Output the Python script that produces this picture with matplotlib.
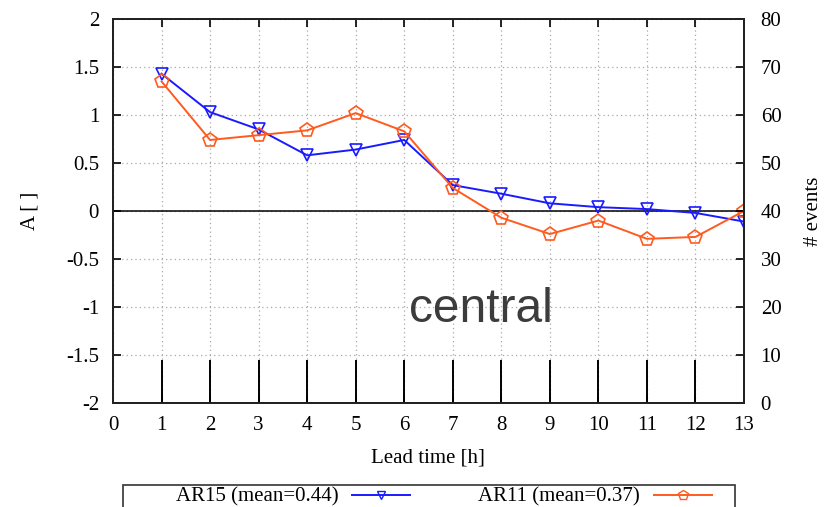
import numpy as np
import matplotlib
matplotlib.use("Agg")
import matplotlib.pyplot as plt
from matplotlib.lines import Line2D
from matplotlib.patches import Rectangle

plt.rcParams["font.family"] = ["Liberation Serif", "DejaVu Serif"]
plt.rcParams["axes.unicode_minus"] = False

lead_time = [1, 2, 3, 4, 5, 6, 7, 8, 9, 10, 11, 12, 13]
ar15 = [1.43, 1.03, 0.85, 0.58, 0.64, 0.74, 0.27, 0.18, 0.08, 0.04, 0.02, -0.02, -0.11]
ar11 = [1.35, 0.74, 0.79, 0.84, 1.02, 0.83, 0.24, -0.07, -0.24, -0.10, -0.29, -0.27, 0.00]
n_events = [9, 9, 9, 9, 9, 9, 9, 9, 9, 9, 9, 9, 9]

label15 = "AR15 (mean=%.2f)" % np.mean(ar15)
label11 = "AR11 (mean=%.2f)" % np.mean(ar11)

blue = "#1a1aff"
orange = "#ff5a1f"
fs = 15

W, H = 825, 507
fig = plt.figure(figsize=(W / 100, H / 100), dpi=100)
ax = fig.add_axes([113 / W, 1 - 403 / H, 631 / W, 384 / H])

# event counts as impulses on the right-hand axis (drawn above the grid)
ax2 = ax.twinx()
ax2.vlines(lead_time, 0, n_events, color="black", lw=1.4)
ax2.set_ylim(0, 80)
ax2.set_yticks(np.arange(0, 81, 10))

ax.axhline(0, color="black", lw=1.1, zorder=2)
ax.plot(lead_time, ar15, color=blue, lw=1.4, marker="v", ms=9,
        mfc="none", mec=blue, mew=1.2, zorder=3)
ax.plot(lead_time, ar11, color=orange, lw=1.4, marker="p", ms=10,
        mfc="none", mec=orange, mew=1.2, zorder=4)

ax.set_xlim(0, 13)
ax.set_ylim(-2, 2)
ax.set_xticks(range(0, 14))
ax.set_yticks(np.arange(-2, 2.01, 0.5))
ax.yaxis.set_major_formatter(matplotlib.ticker.FormatStrFormatter("%g"))
ax.grid(True, color="#a8a8a8", lw=0.9, ls=(0, (1, 2.5)))

ax.tick_params(axis="both", direction="in", length=6, width=1.2,
               labelsize=fs, top=True)
ax.tick_params(axis="x", pad=9)
ax.tick_params(axis="y", pad=10)
ax2.tick_params(axis="y", direction="in", length=6, width=1.2,
                labelsize=fs, pad=12)

for a in (ax, ax2):
    for s in a.spines.values():
        s.set_linewidth(1.4)
        s.set_color("#222222")

fig.text(428 / W, 1 - 458 / H, "Lead time [h]", ha="center", va="center",
         fontsize=fs)
fig.text(30 / W, 1 - 211 / H, "A [ ]", ha="center", va="center",
         rotation=90, fontsize=fs)
fig.text(813 / W, 1 - 211 / H, "# events", ha="center", va="center",
         rotation=90, fontsize=fs)

ax.text(481 / W, 1 - 310 / H, "central", transform=fig.transFigure,
        ha="center", va="center", fontsize=34.5, color="#3c3c3c",
        family="Liberation Sans")

# legend below the plot, framed by a plain box
handles = [
    Line2D([], [], color=blue, lw=1.4, marker="v", ms=6, mfc="none", mec=blue),
    Line2D([], [], color=orange, lw=1.4, marker="p", ms=7, mfc="none", mec=orange),
]
fig.legend(handles, [label15, label11], ncol=2, markerfirst=False,
           frameon=False, fontsize=fs, handlelength=2.8,
           handletextpad=0.65, columnspacing=3.25, borderpad=0,
           borderaxespad=0, loc="center left",
           bbox_to_anchor=(176 / W, 1 - 497 / H))
fig.patches.append(Rectangle((123 / W, -0.02), 612 / W, 0.02 + 22 / H,
                             transform=fig.transFigure, fill=False,
                             ec="#333333", lw=1.2))

fig.savefig("out.png", dpi=100)
